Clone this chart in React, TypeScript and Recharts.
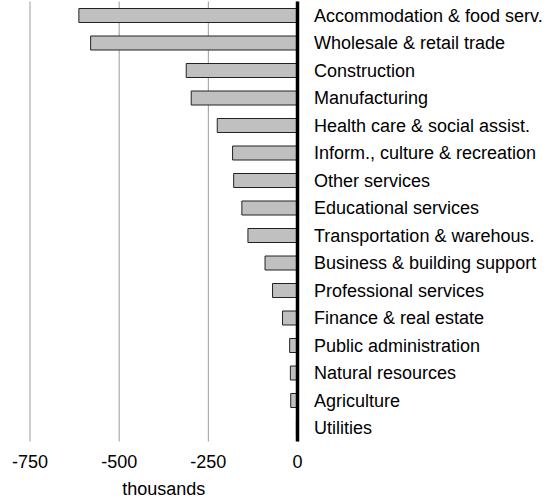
import React from 'react';
import { BarChart, Bar, XAxis, YAxis, CartesianGrid } from 'recharts';

const categories = [
  'Accommodation & food serv.',
  'Wholesale & retail trade',
  'Construction',
  'Manufacturing',
  'Health care & social assist.',
  'Inform., culture & recreation',
  'Other services',
  'Educational services',
  'Transportation & warehous.',
  'Business & building support',
  'Professional services',
  'Finance & real estate',
  'Public administration',
  'Natural resources',
  'Agriculture',
  'Utilities',
];

const changes = [-613, -580, -312, -298, -225, -182, -179, -156, -139, -91, -70, -42, -22, -20, -19, -3];

const xTicks = [-750, -500, -250, 0];

const data = categories.map((c, i) => ({ industry: c, change: changes[i] }));

const FONT = '"Liberation Sans", Arial, Helvetica, sans-serif';

const CategoryTick = (props: any) => {
  const { x, y, payload } = props;
  return (
    <text x={x} y={y} dy={6.4} textAnchor="start" fontSize={18} fontFamily={FONT} fill="#000">
      {payload.value}
    </text>
  );
};

const ValueTick = (props: any) => {
  const { x, y, payload } = props;
  return (
    <text x={x} y={y} dy={26} textAnchor="middle" fontSize={18} fontFamily={FONT} fill="#000">
      {payload.value}
    </text>
  );
};

export default function App() {
  return (
    <div style={{ position: 'absolute', left: 0, top: 0, background: '#fff' }}>
      <BarChart
        width={556}
        height={500}
        data={data}
        layout="vertical"
        margin={{ top: 1.5, right: 0, bottom: 0, left: 30 }}
        barCategoryGap={0}
      >
        <CartesianGrid horizontal={false} vertical={true} stroke="#9a9a9a" strokeWidth={1} />
        <XAxis
          type="number"
          domain={[-750, 0]}
          ticks={xTicks}
          allowDataOverflow
          axisLine={false}
          tickLine={false}
          tickSize={0}
          tickMargin={0}
          height={58.5}
          tick={<ValueTick />}
          interval={0}
          label={{
            value: 'thousands',
            position: 'insideBottom',
            offset: 5,
            fill: '#000',
            fontSize: 18,
            fontFamily: FONT,
          }}
        />
        <YAxis
          type="category"
          dataKey="industry"
          orientation="right"
          width={258.5}
          axisLine={{ stroke: '#000', strokeWidth: 3.5 }}
          tickLine={false}
          tickSize={0}
          tickMargin={16.5}
          interval={0}
          tick={<CategoryTick />}
        />
        <Bar
          dataKey="change"
          fill="#c0c0c0"
          stroke="#222"
          strokeWidth={1}
          barSize={14}
          isAnimationActive={false}
        />
      </BarChart>
    </div>
  );
}
